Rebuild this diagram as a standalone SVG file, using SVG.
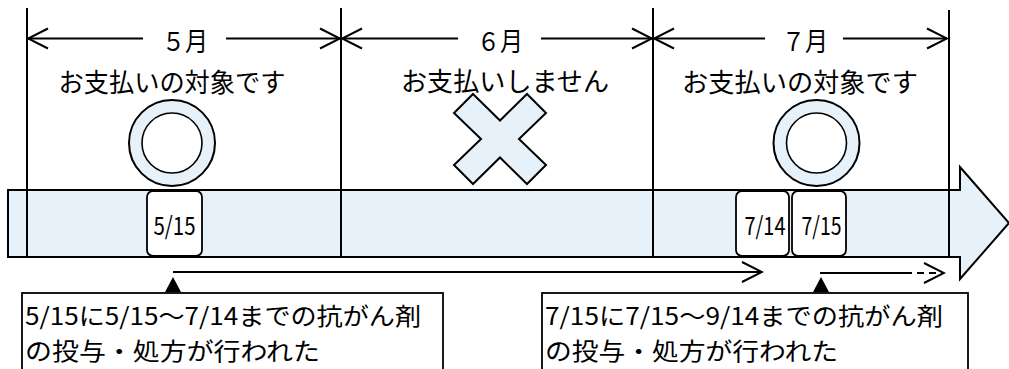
<svg xmlns="http://www.w3.org/2000/svg" width="1009" height="369" viewBox="0 0 1009 369">
<style>
.t{font-family:"Noto Sans CJK JP","Noto Sans",sans-serif;fill:#000;text-anchor:middle;dominant-baseline:central}
.s{text-anchor:start}
.ln{stroke:#000;stroke-width:2;fill:none}
.dim{stroke:#000;stroke-width:1.8;fill:none}
.blue{fill:#E6F1FA;stroke:#000;stroke-width:2}
.box{fill:#fff;stroke:#000;stroke-width:1.8}
</style>
<defs>
<marker id="open" markerUnits="userSpaceOnUse" markerWidth="24" markerHeight="24" viewBox="-22 -12 24 24" refX="0" refY="0" orient="auto">
<path d="M-20,-10 L0,0 L-20,10" fill="none" stroke="#000" stroke-width="2"/>
</marker>
</defs>
<rect width="1009" height="369" fill="#fff"/>
<g id="band">
<path class="blue" d="M8,190 H960 V167 L1009,223 L960,279 V257 H8 Z"/>
</g>
<g id="dividers">
<line class="ln" x1="27" y1="8" x2="27" y2="257"/>
<line class="ln" x1="341" y1="8" x2="341" y2="257"/>
<line class="ln" x1="653" y1="8" x2="653" y2="257"/>
<line class="ln" x1="949" y1="10" x2="949" y2="257"/>
</g>
<g id="may">
<text class="t" x="185" y="39" font-size="26" textLength="46" lengthAdjust="spacingAndGlyphs">５月</text>
<text class="t" x="172" y="80" font-size="26" textLength="227" lengthAdjust="spacingAndGlyphs">お支払いの対象です</text>
<circle class="blue" cx="172" cy="143" r="43" stroke-width="1.6"/>
<circle cx="172" cy="143" r="30" fill="#fff" stroke="#000" stroke-width="1.6"/>
</g>
<g id="june">
<text class="t" x="500" y="39" font-size="26" textLength="46" lengthAdjust="spacingAndGlyphs">６月</text>
<text class="t" x="505" y="79" font-size="26" textLength="208" lengthAdjust="spacingAndGlyphs">お支払いしません</text>
<polygon class="blue" stroke-width="1.6" points="473,94 500,120.5 527,94 546,113 519,139 546,165 527,184 500,157.5 473,184 454,165 481,139 454,113"/>
</g>
<g id="july">
<text class="t" x="805" y="39" font-size="26" textLength="46" lengthAdjust="spacingAndGlyphs">７月</text>
<text class="t" x="800" y="80" font-size="26" textLength="236" lengthAdjust="spacingAndGlyphs">お支払いの対象です</text>
<circle class="blue" cx="816.5" cy="143" r="43" stroke-width="1.6"/>
<circle cx="816.5" cy="143" r="30" fill="#fff" stroke="#000" stroke-width="1.6"/>
</g>
<g id="d515">
<rect class="box" x="147" y="191" width="55" height="65" rx="6"/>
<text class="t" x="174.5" y="224" font-size="25" textLength="42" lengthAdjust="spacingAndGlyphs">5/15</text>
</g>
<g id="d714">
<rect class="box" x="736" y="191" width="53" height="65" rx="6"/>
<text class="t" x="765" y="224" font-size="25" textLength="41" lengthAdjust="spacingAndGlyphs">7/14</text>
</g>
<g id="d715">
<rect class="box" x="792" y="191" width="54" height="65" rx="6"/>
<text class="t" x="821.5" y="224" font-size="25" textLength="40" lengthAdjust="spacingAndGlyphs">7/15</text>
</g>
<g id="note1">
<rect class="box" x="22" y="293" width="421" height="100"/>
<text class="t s" x="25" y="314" font-size="24" textLength="396" lengthAdjust="spacingAndGlyphs">5/15に5/15〜7/14までの抗がん剤</text>
<text class="t s" x="25" y="349.5" font-size="24" textLength="295" lengthAdjust="spacingAndGlyphs">の投与・処方が行われた</text>
</g>
<g id="note2">
<rect class="box" x="542" y="293" width="426" height="100"/>
<text class="t s" x="545" y="314" font-size="24" textLength="398" lengthAdjust="spacingAndGlyphs">7/15に7/15〜9/14までの抗がん剤</text>
<text class="t s" x="545" y="349.5" font-size="24" textLength="293" lengthAdjust="spacingAndGlyphs">の投与・処方が行われた</text>
</g>
<g id="connectors">
<line class="dim" x1="143" y1="38.5" x2="28" y2="38.5" marker-end="url(#open)"/>
<line class="dim" x1="226" y1="38.5" x2="340" y2="38.5" marker-end="url(#open)"/>
<line class="dim" x1="458" y1="38.5" x2="342" y2="38.5" marker-end="url(#open)"/>
<line class="dim" x1="541" y1="38.5" x2="652" y2="38.5" marker-end="url(#open)"/>
<line class="dim" x1="765" y1="38.5" x2="654" y2="38.5" marker-end="url(#open)"/>
<line class="dim" x1="843" y1="38.5" x2="947" y2="38.5" marker-end="url(#open)"/>
<line class="dim" x1="173" y1="272" x2="762" y2="272" marker-end="url(#open)"/>
<polygon points="173,277 165,292 181,292" fill="#000"/>
<line class="dim" x1="820" y1="273" x2="905" y2="273"/>
<line class="dim" x1="905" y1="273" x2="944" y2="273" stroke-dasharray="7,5" marker-end="url(#open)"/>
<polygon points="821,277 813,292 829,292" fill="#000"/>
</g>
</svg>
